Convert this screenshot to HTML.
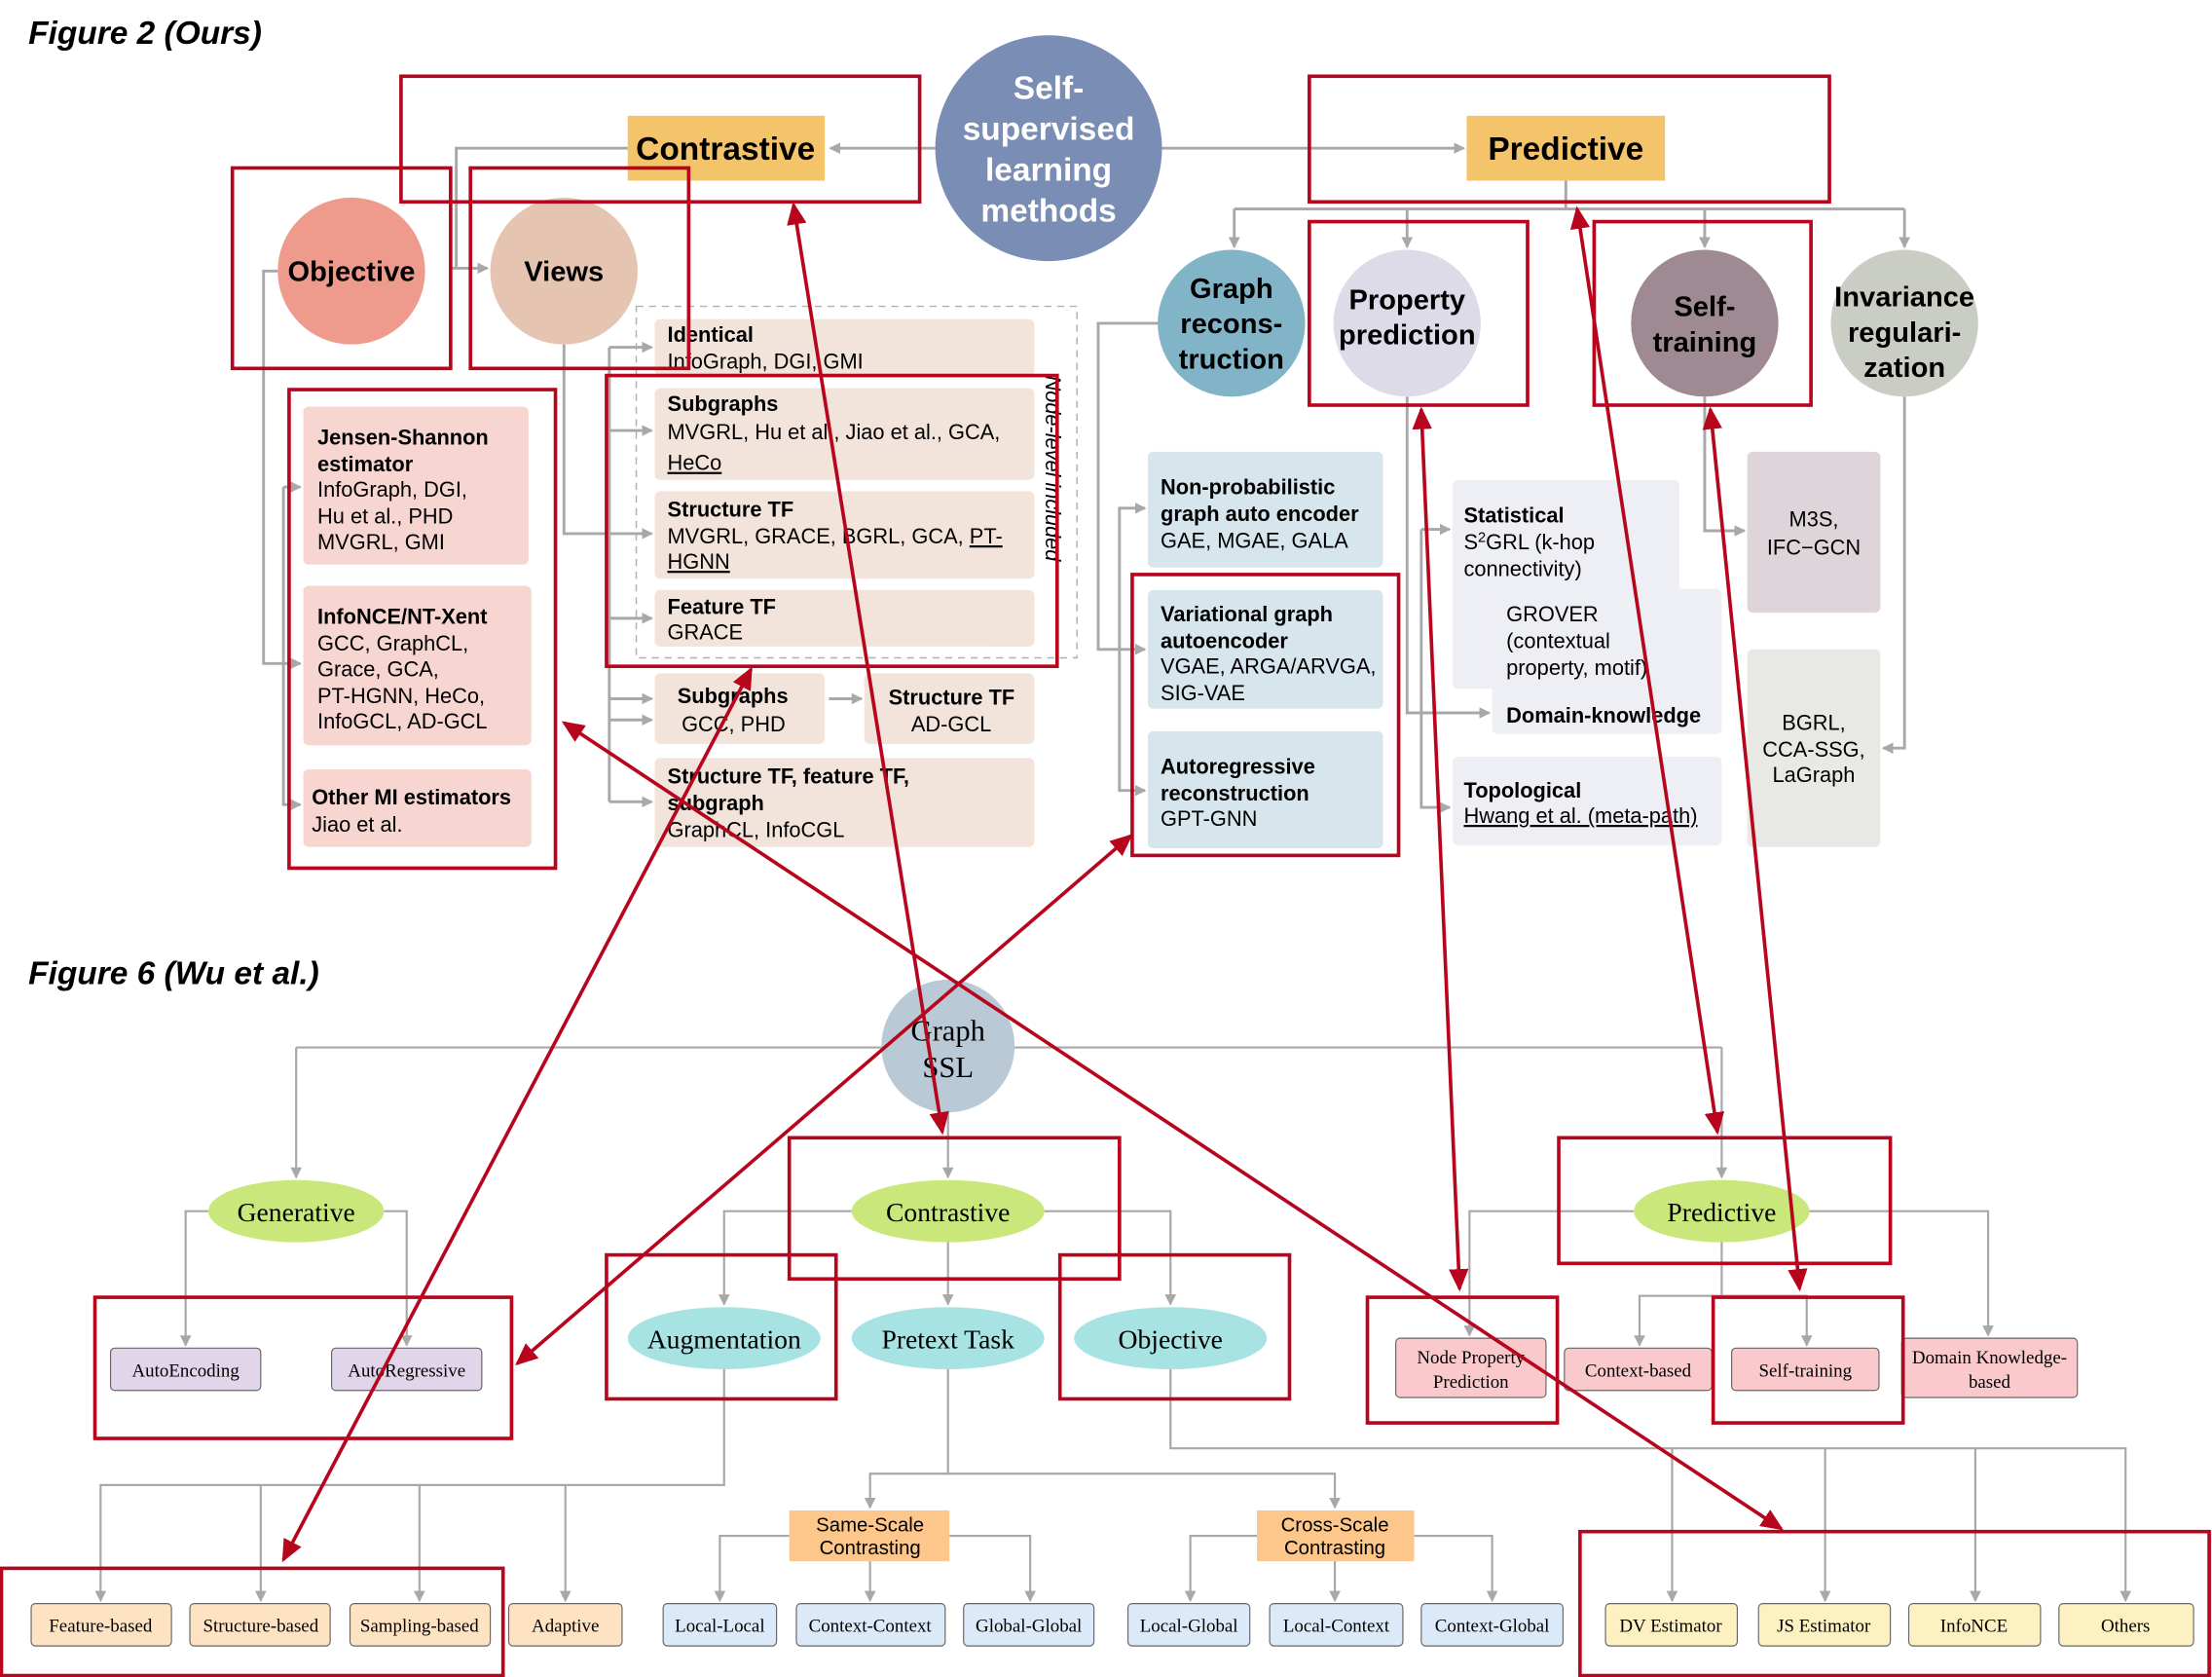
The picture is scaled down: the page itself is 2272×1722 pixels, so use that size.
<!DOCTYPE html>
<html><head><meta charset="utf-8"><style>
html,body{margin:0;padding:0;background:#fff;}
svg{display:block}
.s{font-family:"Liberation Sans",sans-serif;}
.sf{font-family:"Liberation Serif",serif;}
.b{font-weight:bold}
</style></head><body>
<svg width="2272" height="1722" viewBox="0 0 1561 1188" preserveAspectRatio="none" xmlns="http://www.w3.org/2000/svg">
<defs>
<marker id="g" markerWidth="8" markerHeight="8" refX="7" refY="4" orient="auto" markerUnits="userSpaceOnUse"><path d="M0,0 L8,4 L0,8 z" fill="#a8a8a8"/></marker>
<marker id="r" markerWidth="16" markerHeight="14" refX="14" refY="7" orient="auto-start-reverse" markerUnits="userSpaceOnUse"><path d="M0,0 L16,7 L0,14 z" fill="#b8051e"/></marker>
</defs>
<g class="s">
<text x="20" y="31" font-size="23" font-weight="bold" font-style="italic">Figure 2 (Ours)</text>
<text x="20" y="697" font-size="23" font-weight="bold" font-style="italic">Figure 6 (Wu et al.)</text>
</g>

<!-- gray connectors top -->
<g stroke="#a8a8a8" stroke-width="2" fill="none">
<path d="M660,105 H586" marker-end="url(#g)"/>
<path d="M820,105 H1033" marker-end="url(#g)"/>
<path d="M443,105 H322 V190 H344" marker-end="url(#g)"/>
<path d="M322,190 H318"/>
<path d="M196,192 H186 V470 H212" marker-end="url(#g)"/>
<path d="M200,345 H212" marker-end="url(#g)"/>
<path d="M200,345 V570 H212" marker-end="url(#g)"/>
<path d="M398,244 V378 H460" marker-end="url(#g)"/>
<path d="M430,246 V568"/>
<path d="M430,246 H460" marker-end="url(#g)"/>
<path d="M430,305 H460" marker-end="url(#g)"/>
<path d="M430,438 H460" marker-end="url(#g)"/>
<path d="M430,495 H460" marker-end="url(#g)"/>
<path d="M430,510 H460" marker-end="url(#g)"/>
<path d="M430,568 H460" marker-end="url(#g)"/>
<path d="M585,495 H608" marker-end="url(#g)"/>
<path d="M1105,128 V148"/>
<path d="M871,148 H1344"/>
<path d="M871,148 V175" marker-end="url(#g)"/>
<path d="M993,148 V175" marker-end="url(#g)"/>
<path d="M1203,148 V175" marker-end="url(#g)"/>
<path d="M1344,148 V175" marker-end="url(#g)"/>
<path d="M818,229 H775 V460 H808" marker-end="url(#g)"/>
<path d="M790,460 V360 H808" marker-end="url(#g)"/>
<path d="M790,460 V560 H808" marker-end="url(#g)"/>
<path d="M993,281 V505 H1051" marker-end="url(#g)"/>
<path d="M1003,375 H1023" marker-end="url(#g)"/>
<path d="M1003,375 V572 H1023" marker-end="url(#g)"/>
<path d="M1203,281 V376 H1231" marker-end="url(#g)"/>
<path d="M1344,281 V530 H1329" marker-end="url(#g)"/>
</g>

<!-- top shapes -->
<circle cx="740" cy="105" r="80" fill="#7a8db5"/>
<g class="s b" font-size="23" fill="#fff" text-anchor="middle">
<text x="740" y="70">Self-</text><text x="740" y="99">supervised</text><text x="740" y="128">learning</text><text x="740" y="157">methods</text>
</g>
<rect x="443" y="82" width="139" height="46" fill="#f4c46a"/>
<rect x="1035" y="82" width="140" height="46" fill="#f4c46a"/>
<g class="s b" font-size="23" text-anchor="middle">
<text x="512" y="113">Contrastive</text><text x="1105" y="113">Predictive</text>
</g>
<circle cx="248" cy="192" r="52" fill="#ee9a8c"/>
<circle cx="398" cy="192" r="52" fill="#e5c5b2"/>
<circle cx="869" cy="229" r="52" fill="#80b4c6"/>
<circle cx="993" cy="229" r="52" fill="#dddbe7"/>
<circle cx="1203" cy="229" r="52" fill="#9f8a93"/>
<circle cx="1344" cy="229" r="52" fill="#cacdc3"/>
<g class="s b" font-size="20" text-anchor="middle">
<text x="248" y="199">Objective</text><text x="398" y="199">Views</text>
<text x="869" y="211">Graph</text><text x="869" y="236">recons-</text><text x="869" y="261">truction</text>
<text x="993" y="219">Property</text><text x="993" y="244">prediction</text>
<text x="1203" y="224">Self-</text><text x="1203" y="249">training</text>
<text x="1344" y="217">Invariance</text><text x="1344" y="242">regulari-</text><text x="1344" y="267">zation</text>
</g>

<!-- left pink boxes -->
<g fill="#f7d6d2">
<rect x="214" y="288" width="159" height="112" rx="4"/>
<rect x="214" y="415" width="161" height="113" rx="4"/>
<rect x="214" y="545" width="161" height="55" rx="4"/>
</g>
<g class="s" font-size="15">
<text x="224" y="315" class="b">Jensen-Shannon</text>
<text x="224" y="334" class="b">estimator</text>
<text x="224" y="352">InfoGraph, DGI,</text>
<text x="224" y="371">Hu et al., PHD</text>
<text x="224" y="389">MVGRL, GMI</text>
<text x="224" y="442" class="b">InfoNCE/NT-Xent</text>
<text x="224" y="461">GCC, GraphCL,</text>
<text x="224" y="479">Grace, GCA,</text>
<text x="224" y="498">PT-HGNN, HeCo,</text>
<text x="224" y="516">InfoGCL, AD-GCL</text>
<text x="220" y="570" class="b">Other MI estimators</text>
<text x="220" y="589">Jiao et al.</text>
</g>

<!-- beige boxes -->
<rect x="449" y="217" width="311" height="249" fill="none" stroke="#b0b0b0" stroke-dasharray="5,4"/>
<g fill="#f3e4db">
<rect x="462" y="226" width="268" height="40" rx="4"/>
<rect x="462" y="275" width="268" height="65" rx="4"/>
<rect x="462" y="348" width="268" height="62" rx="4"/>
<rect x="462" y="418" width="268" height="40" rx="4"/>
<rect x="462" y="477" width="120" height="50" rx="4"/>
<rect x="610" y="477" width="120" height="50" rx="4"/>
<rect x="462" y="537" width="268" height="63" rx="4"/>
</g>
<g class="s" font-size="15">
<text x="471" y="242" class="b">Identical</text><text x="471" y="261">InfoGraph, DGI, GMI</text>
<text x="471" y="291" class="b">Subgraphs</text><text x="471" y="311">MVGRL, Hu et al., Jiao et al., GCA,</text><text x="471" y="333" text-decoration="underline">HeCo</text>
<text x="471" y="366" class="b">Structure TF</text><text x="471" y="385">MVGRL, GRACE, BGRL, GCA, <tspan text-decoration="underline">PT-</tspan></text><text x="471" y="403" text-decoration="underline">HGNN</text>
<text x="471" y="435" class="b">Feature TF</text><text x="471" y="453">GRACE</text>
<text x="478" y="498" class="b">Subgraphs</text><text x="481" y="518">GCC, PHD</text>
<text x="627" y="499" class="b">Structure TF</text><text x="643" y="518">AD-GCL</text>
<text x="471" y="555" class="b">Structure TF, feature TF,</text><text x="471" y="574" class="b">subgraph</text><text x="471" y="593">GraphCL, InfoCGL</text>
<text transform="translate(738,266) rotate(90)" font-size="15" font-style="italic">Node-level included</text>
</g>

<!-- blue boxes -->
<g fill="#d7e5ed">
<rect x="810" y="320" width="166" height="82" rx="4"/>
<rect x="810" y="418" width="166" height="84" rx="4"/>
<rect x="810" y="518" width="166" height="83" rx="4"/>
</g>
<g class="s" font-size="15">
<text x="819" y="350" class="b">Non-probabilistic</text><text x="819" y="369" class="b">graph auto encoder</text><text x="819" y="388">GAE, MGAE, GALA</text>
<text x="819" y="440" class="b">Variational graph</text><text x="819" y="459" class="b">autoencoder</text><text x="819" y="477">VGAE, ARGA/ARVGA,</text><text x="819" y="496">SIG-VAE</text>
<text x="819" y="548" class="b">Autoregressive</text><text x="819" y="567" class="b">reconstruction</text><text x="819" y="585">GPT-GNN</text>
</g>

<!-- gray boxes right -->
<g fill="#eeeff4">
<rect x="1025" y="340" width="160" height="148" rx="4"/>
<rect x="1053" y="417" width="162" height="103" rx="4"/>
<rect x="1025" y="536" width="190" height="63" rx="4"/>
</g>
<rect x="1233" y="320" width="94" height="114" rx="4" fill="#ddd5d9"/>
<rect x="1233" y="460" width="94" height="140" rx="4" fill="#e8e9e5"/>
<g class="s" font-size="15">
<text x="1033" y="370" class="b">Statistical</text><text x="1033" y="389">S<tspan font-size="10" dy="-5">2</tspan><tspan dy="5">GRL (k-hop</tspan></text><text x="1033" y="408">connectivity)</text>
<text x="1063" y="440">GROVER</text><text x="1063" y="459">(contextual</text><text x="1063" y="478">property, motif)</text>
<text x="1063" y="512" class="b">Domain-knowledge</text>
<text x="1033" y="565" class="b">Topological</text><text x="1033" y="583" text-decoration="underline">Hwang et al. (meta-path)</text>
<g text-anchor="middle"><text x="1280" y="373">M3S,</text><text x="1280" y="393">IFC−GCN</text>
<text x="1280" y="517">BGRL,</text><text x="1280" y="536">CCA-SSG,</text><text x="1280" y="554">LaGraph</text></g>
</g>

<!-- bottom connectors -->
<g stroke="#a8a8a8" stroke-width="1.5" fill="none">
<path d="M209,742 H1215"/>
<path d="M209,742 V834" marker-end="url(#g)"/>
<path d="M669,788 V834" marker-end="url(#g)"/>
<path d="M1215,742 V834" marker-end="url(#g)"/>
<path d="M147,858 H131 V953" marker-end="url(#g)"/>
<path d="M271,858 H287 V953" marker-end="url(#g)"/>
<path d="M601,858 H511 V924" marker-end="url(#g)"/>
<path d="M669,880 V924" marker-end="url(#g)"/>
<path d="M737,858 H826 V924" marker-end="url(#g)"/>
<path d="M1153,858 H1037 V946" marker-end="url(#g)"/>
<path d="M1215,880 V918 H1157 V953" marker-end="url(#g)"/>
<path d="M1215,918 H1275 V953" marker-end="url(#g)"/>
<path d="M1277,858 H1403 V946" marker-end="url(#g)"/>
<path d="M511,970 V1052 H71 V1134" marker-end="url(#g)"/>
<path d="M184,1052 V1134" marker-end="url(#g)"/>
<path d="M296,1052 V1134" marker-end="url(#g)"/>
<path d="M399,1052 V1134" marker-end="url(#g)"/>
<path d="M669,970 V1044 H614 V1068" marker-end="url(#g)"/>
<path d="M669,1044 H942 V1068" marker-end="url(#g)"/>
<path d="M557,1088 H508 V1134" marker-end="url(#g)"/>
<path d="M614,1106 V1134" marker-end="url(#g)"/>
<path d="M670,1088 H727 V1134" marker-end="url(#g)"/>
<path d="M887,1088 H840 V1134" marker-end="url(#g)"/>
<path d="M942,1106 V1134" marker-end="url(#g)"/>
<path d="M998,1088 H1053 V1134" marker-end="url(#g)"/>
<path d="M826,970 V1026 H1500 V1134" marker-end="url(#g)"/>
<path d="M1180,1026 V1134" marker-end="url(#g)"/>
<path d="M1288,1026 V1134" marker-end="url(#g)"/>
<path d="M1394,1026 V1134" marker-end="url(#g)"/>
</g>

<circle cx="669" cy="741" r="47" fill="#b9c9d5"/>
<g class="sf" font-size="21" text-anchor="middle"><text x="669" y="737">Graph</text><text x="669" y="763">SSL</text></g>
<g fill="#c9e77b">
<ellipse cx="209" cy="858" rx="62" ry="22"/><ellipse cx="669" cy="858" rx="68" ry="22"/><ellipse cx="1215" cy="858" rx="62" ry="22"/>
</g>
<g fill="#a7e3e3">
<ellipse cx="511" cy="948" rx="68" ry="22"/><ellipse cx="669" cy="948" rx="68" ry="22"/><ellipse cx="826" cy="948" rx="68" ry="22"/>
</g>
<g class="sf" font-size="19" text-anchor="middle">
<text x="209" y="865">Generative</text><text x="669" y="865">Contrastive</text><text x="1215" y="865">Predictive</text>
<text x="511" y="955">Augmentation</text><text x="669" y="955">Pretext Task</text><text x="826" y="955">Objective</text>
</g>

<g stroke="#666" stroke-width="0.8">
<g fill="#e1d5e9"><rect x="78" y="955" width="106" height="30" rx="3"/><rect x="234" y="955" width="106" height="30" rx="3"/></g>
<g fill="#f9c9cc"><rect x="985" y="948" width="106" height="42" rx="3"/><rect x="1104" y="955" width="104" height="30" rx="3"/><rect x="1222" y="955" width="104" height="30" rx="3"/><rect x="1342" y="948" width="124" height="42" rx="3"/></g>
<g fill="#fde3c2"><rect x="22" y="1136" width="99" height="30" rx="3"/><rect x="134" y="1136" width="99" height="30" rx="3"/><rect x="247" y="1136" width="99" height="30" rx="3"/><rect x="359" y="1136" width="80" height="30" rx="3"/></g>
<g fill="#fdc78b" stroke="none"><rect x="557" y="1070" width="113" height="36"/><rect x="887" y="1070" width="111" height="36"/></g>
<g fill="#dce9f9"><rect x="468" y="1136" width="80" height="30" rx="3"/><rect x="562" y="1136" width="105" height="30" rx="3"/><rect x="680" y="1136" width="92" height="30" rx="3"/><rect x="796" y="1136" width="86" height="30" rx="3"/><rect x="896" y="1136" width="94" height="30" rx="3"/><rect x="1003" y="1136" width="100" height="30" rx="3"/></g>
<g fill="#fdf1c2"><rect x="1133" y="1136" width="93" height="30" rx="3"/><rect x="1241" y="1136" width="93" height="30" rx="3"/><rect x="1347" y="1136" width="93" height="30" rx="3"/><rect x="1453" y="1136" width="95" height="30" rx="3"/></g>
</g>
<g class="sf" font-size="13" text-anchor="middle">
<text x="131" y="975">AutoEncoding</text><text x="287" y="975">AutoRegressive</text>
<text x="1038" y="966">Node Property</text><text x="1038" y="983">Prediction</text>
<text x="1156" y="975">Context-based</text><text x="1274" y="975">Self-training</text>
<text x="1404" y="966">Domain Knowledge-</text><text x="1404" y="983">based</text>
<text x="71" y="1156">Feature-based</text><text x="184" y="1156">Structure-based</text><text x="296" y="1156">Sampling-based</text><text x="399" y="1156">Adaptive</text>
<text x="508" y="1156">Local-Local</text><text x="614" y="1156">Context-Context</text><text x="726" y="1156">Global-Global</text>
<text x="839" y="1156">Local-Global</text><text x="943" y="1156">Local-Context</text><text x="1053" y="1156">Context-Global</text>
<text x="1179" y="1156">DV Estimator</text><text x="1287" y="1156">JS Estimator</text><text x="1393" y="1156">InfoNCE</text><text x="1500" y="1156">Others</text>
</g>
<g class="s" font-size="14" text-anchor="middle">
<text x="614" y="1085">Same-Scale</text><text x="614" y="1101">Contrasting</text>
<text x="942" y="1085">Cross-Scale</text><text x="942" y="1101">Contrasting</text>
</g>

<!-- red boxes -->
<g fill="none" stroke="#b8051e" stroke-width="2.5">
<rect x="283" y="54" width="366" height="89"/>
<rect x="924" y="54" width="367" height="89"/>
<rect x="164" y="119" width="154" height="142"/>
<rect x="332" y="119" width="154" height="142"/>
<rect x="204" y="276" width="188" height="339"/>
<rect x="428" y="266" width="318" height="206"/>
<rect x="799" y="407" width="188" height="199"/>
<rect x="924" y="157" width="154" height="130"/>
<rect x="1125" y="157" width="153" height="130"/>
<rect x="67" y="919" width="294" height="100"/>
<rect x="428" y="889" width="162" height="102"/>
<rect x="557" y="806" width="233" height="100"/>
<rect x="748" y="889" width="162" height="102"/>
<rect x="1100" y="806" width="234" height="89"/>
<rect x="965" y="919" width="134" height="89"/>
<rect x="1209" y="919" width="134" height="89"/>
<rect x="1" y="1111" width="354" height="76"/>
<rect x="1115" y="1085" width="444" height="102"/>
</g>
<!-- red arrows -->
<g stroke="#b8051e" stroke-width="2.5" fill="none" marker-start="url(#r)" marker-end="url(#r)">
<line x1="560" y1="145" x2="665" y2="802"/>
<line x1="1113" y1="148" x2="1212" y2="802"/>
<line x1="1003" y1="290" x2="1030" y2="913"/>
<line x1="1207" y1="290" x2="1270" y2="913"/>
<line x1="398" y1="512" x2="1257" y2="1083"/>
<line x1="798" y1="592" x2="365" y2="966"/>
<line x1="530" y1="474" x2="200" y2="1105"/>
</g>
</svg>
</body></html>
